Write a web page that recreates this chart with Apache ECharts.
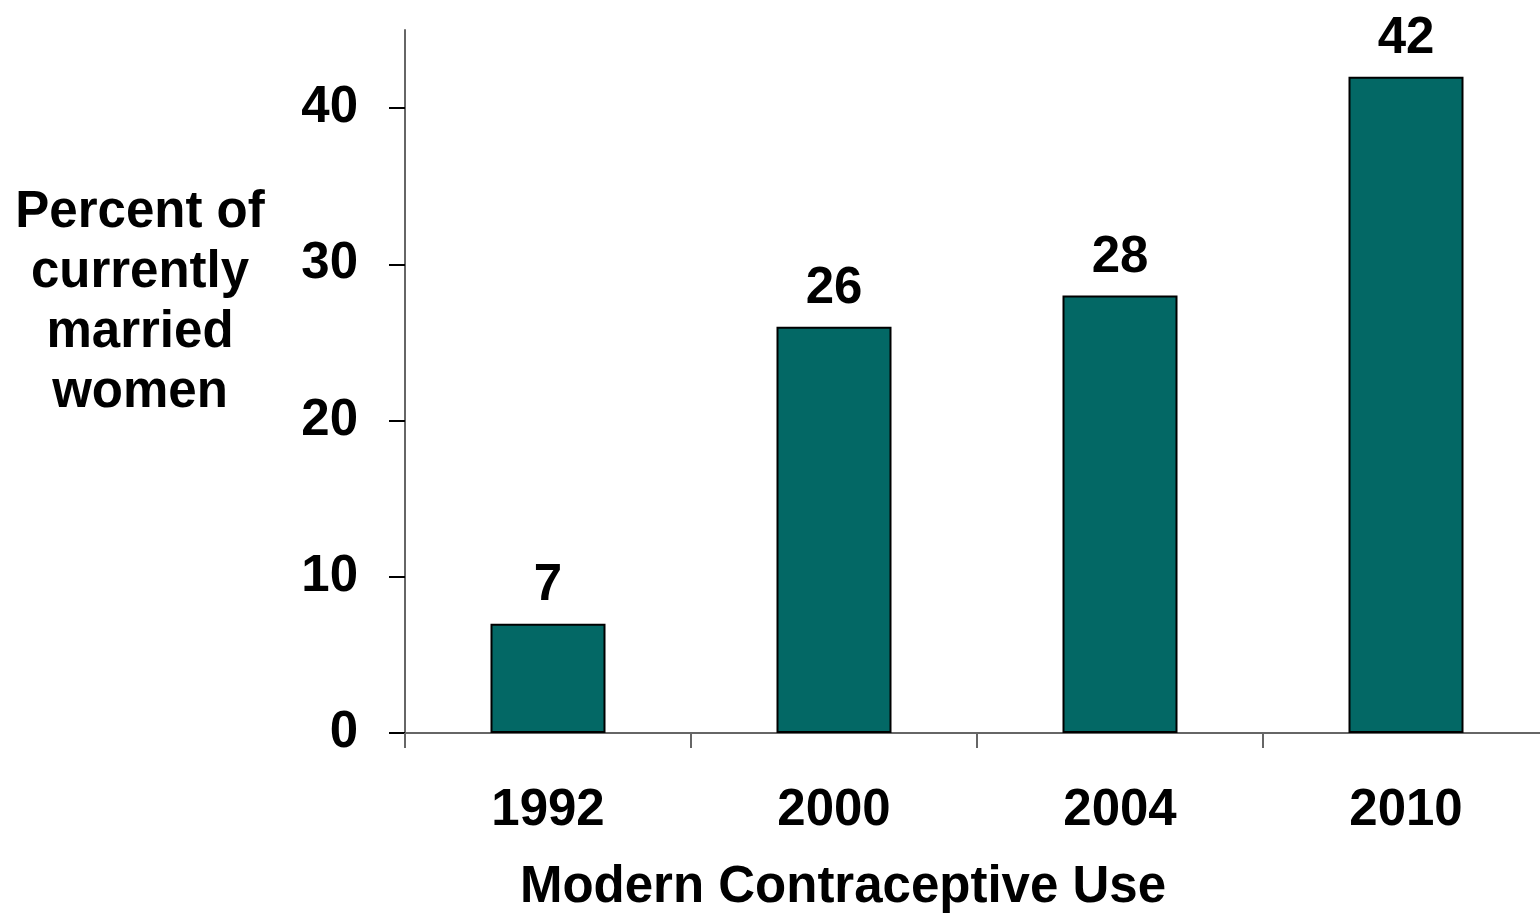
<!DOCTYPE html>
<html>
<head>
<meta charset="utf-8">
<script src="https://cdn.jsdelivr.net/npm/echarts@6/dist/echarts.min.js"></script>
<style>
  html, body { margin: 0; padding: 0; background: #fff; }
  #chart { width: 1540px; height: 913px; }
</style>
</head>
<body>
<div id="chart"></div>
<script>
const years = ['1992', '2000', '2004', '2010']
const usePct = [7, 26, 28, 42]
const yTickValues = [0, 10, 20, 30, 40]
const yRange = { min: 0, max: 45, interval: 10 }

const font = '"Liberation Sans", Arial, sans-serif'
const chart = echarts.init(document.getElementById('chart'))

chart.setOption({
  animation: false,
  textStyle: { fontFamily: font },
  grid: { left: 405, top: 30, width: 1144, height: 703, outerBoundsMode: 'none', containLabel: false },
  xAxis: {
    type: 'category',
    data: years,
    axisLine: { lineStyle: { color: '#666', width: 2 } },
    axisTick: { show: true, length: 15, lineStyle: { color: '#666', width: 2 } },
    axisLabel: { color: '#000', fontSize: 51, fontWeight: 'bold', margin: 52, fontFamily: font }
  },
  yAxis: {
    type: 'value',
    min: yRange.min,
    max: yRange.max,
    interval: yRange.interval,
    splitLine: { show: false },
    axisLine: { show: true, lineStyle: { color: '#666', width: 2 } },
    axisTick: { show: true, length: 16, customValues: yTickValues, lineStyle: { color: '#000', width: 2 } },
    axisLabel: {
      color: '#000', fontSize: 51, fontWeight: 'bold', margin: 47, fontFamily: font,
      customValues: yTickValues
    }
  },
  series: [{
    type: 'bar',
    data: usePct,
    barWidth: 115,
    itemStyle: { color: '#036865', borderColor: '#000', borderWidth: 2 },
    label: {
      show: true,
      position: 'top',
      distance: 12,
      color: '#000',
      fontSize: 51,
      fontWeight: 'bold',
      fontFamily: font
    }
  }],
  graphic: [
    {
      type: 'text',
      x: 140,
      y: 183,
      style: {
        text: 'Percent of\ncurrently\nmarried\nwomen',
        align: 'center',
        fontSize: 51,
        fontWeight: 'bold',
        lineHeight: 60,
        fontFamily: font,
        fill: '#000'
      }
    },
    {
      type: 'text',
      x: 843,
      y: 862,
      style: {
        text: 'Modern Contraceptive Use',
        align: 'center',
        fontSize: 51,
        fontWeight: 'bold',
        fontFamily: font,
        fill: '#000'
      }
    }
  ]
})
</script>
</body>
</html>
